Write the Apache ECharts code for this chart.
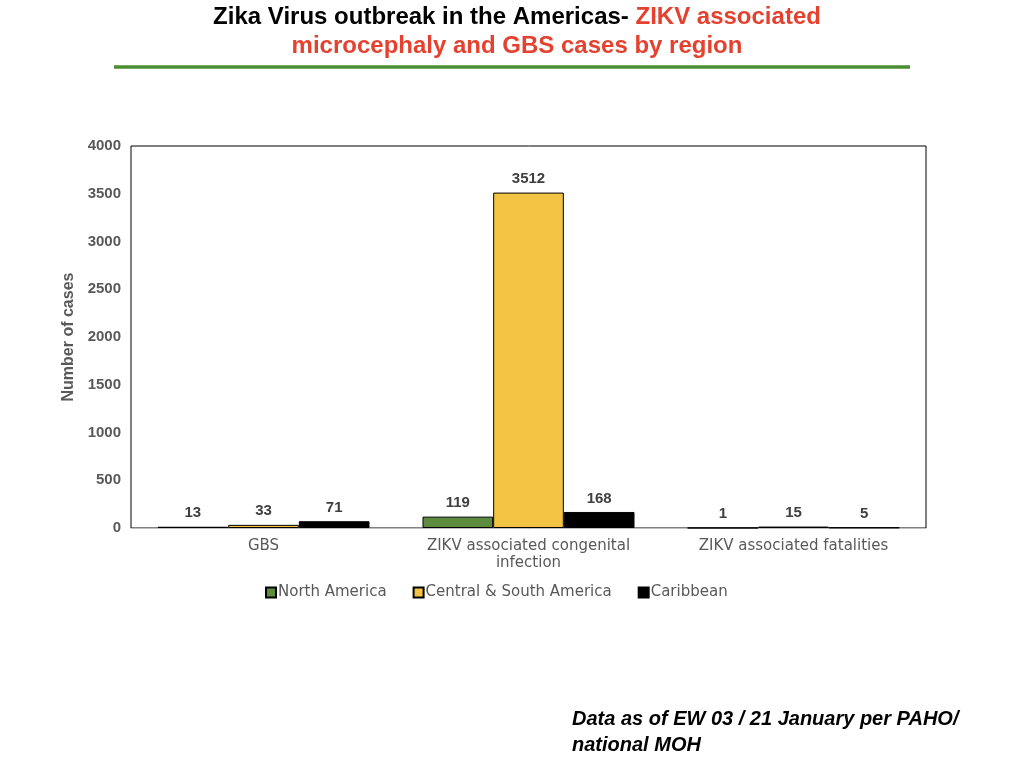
<!DOCTYPE html>
<html>
<head>
<meta charset="utf-8">
<script src="https://cdn.jsdelivr.net/npm/echarts@6/dist/echarts.min.js"></script>
<style>
  html, body { margin: 0; padding: 0; background: #fff; }
  #chart { width: 1024px; height: 768px; }
</style>
</head>
<body>
<div id="chart"></div>
<script>
const categories = ['GBS', 'ZIKV associated congenital\ninfection', 'ZIKV associated fatalities']
const seriesNames = ['North America', 'Central & South America', 'Caribbean']
const northAmerica = [13, 119, 1]
const centralSouth = [33, 3512, 15]
const caribbean = [71, 168, 5]
const yTicks = { min: 0, max: 4000, interval: 500 }

const font = 'Liberation Sans, Arial, Helvetica, sans-serif'
const wideFont = 'DejaVu Sans, Verdana, sans-serif'
const grey = '#595959'

function barSeries(name, data, color, border) {
  return {
    name: name,
    type: 'bar',
    data: data,
    barGap: '0%',
    barCategoryGap: '20%',
    itemStyle: { color: color, borderColor: border, borderWidth: 1 },
    label: {
      show: true,
      position: 'top',
      distance: 6,
      color: '#404040',
      fontFamily: font,
      fontWeight: 'bold',
      fontSize: 15
    }
  }
}

const chart = echarts.init(document.getElementById('chart'))

const option = {
  animation: false,
  backgroundColor: '#fff',
  title: {
    left: 512,
    top: -2,
    textAlign: 'center',
    text: '{a|Zika Virus outbreak in the Americas- }{b|ZIKV associated}\n{b|microcephaly and GBS cases by region}',
    textStyle: {
      fontFamily: font,
      rich: {
        a: { color: '#000', fontSize: 24, fontWeight: 'bold', fontFamily: font, lineHeight: 29 },
        b: { color: '#e4412f', fontSize: 24, fontWeight: 'bold', fontFamily: font, lineHeight: 29 }
      }
    }
  },
  graphic: [
    {
      type: 'line',
      shape: { x1: 114, y1: 67, x2: 910, y2: 67 },
      style: { stroke: '#4a8f32', lineWidth: 3.5 }
    },
    {
      type: 'text',
      left: 572,
      top: 706,
      style: {
        text: 'Data as of EW 03 / 21 January per PAHO/\nnational MOH',
        fill: '#000',
        font: 'italic bold 20px ' + font,
        lineHeight: 26
      }
    }
  ],
  legend: {
    left: 260,
    top: 580,
    icon: 'rect',
    itemWidth: 10,
    itemHeight: 10,
    itemGap: 26,
    data: seriesNames,
    textStyle: { color: grey, fontFamily: wideFont, fontSize: 15, padding: [0, 0, 0, -3] }
  },
  grid: {
    left: 131,
    right: 98,
    top: 146,
    bottom: 240,
    show: true,
    borderColor: '#000',
    borderWidth: 1
  },
  xAxis: {
    type: 'category',
    data: categories,
    axisTick: { show: false },
    axisLine: { show: true, lineStyle: { color: '#bfbfbf', width: 1 } },
    axisLabel: {
      color: grey,
      fontFamily: wideFont,
      fontSize: 15,
      margin: 10,
      lineHeight: 17,
      interval: 0
    }
  },
  yAxis: {
    type: 'value',
    min: yTicks.min,
    max: yTicks.max,
    interval: yTicks.interval,
    name: 'Number of cases',
    nameLocation: 'middle',
    nameRotate: 90,
    nameGap: 53,
    nameTextStyle: { color: grey, fontFamily: font, fontWeight: 'bold', fontSize: 16 },
    splitLine: { show: false },
    axisLine: { show: false },
    axisTick: { show: false },
    axisLabel: {
      color: grey,
      fontFamily: font,
      fontWeight: 'bold',
      fontSize: 15,
      margin: 10,
      formatter: function (v) { return String(v) }
    }
  },
  series: [
    barSeries(seriesNames[0], northAmerica, '#5d8c3e', '#000'),
    barSeries(seriesNames[1], centralSouth, '#f3c444', '#000'),
    barSeries(seriesNames[2], caribbean, '#000', '#000')
  ]
}

chart.setOption(option)
</script>
</body>
</html>
